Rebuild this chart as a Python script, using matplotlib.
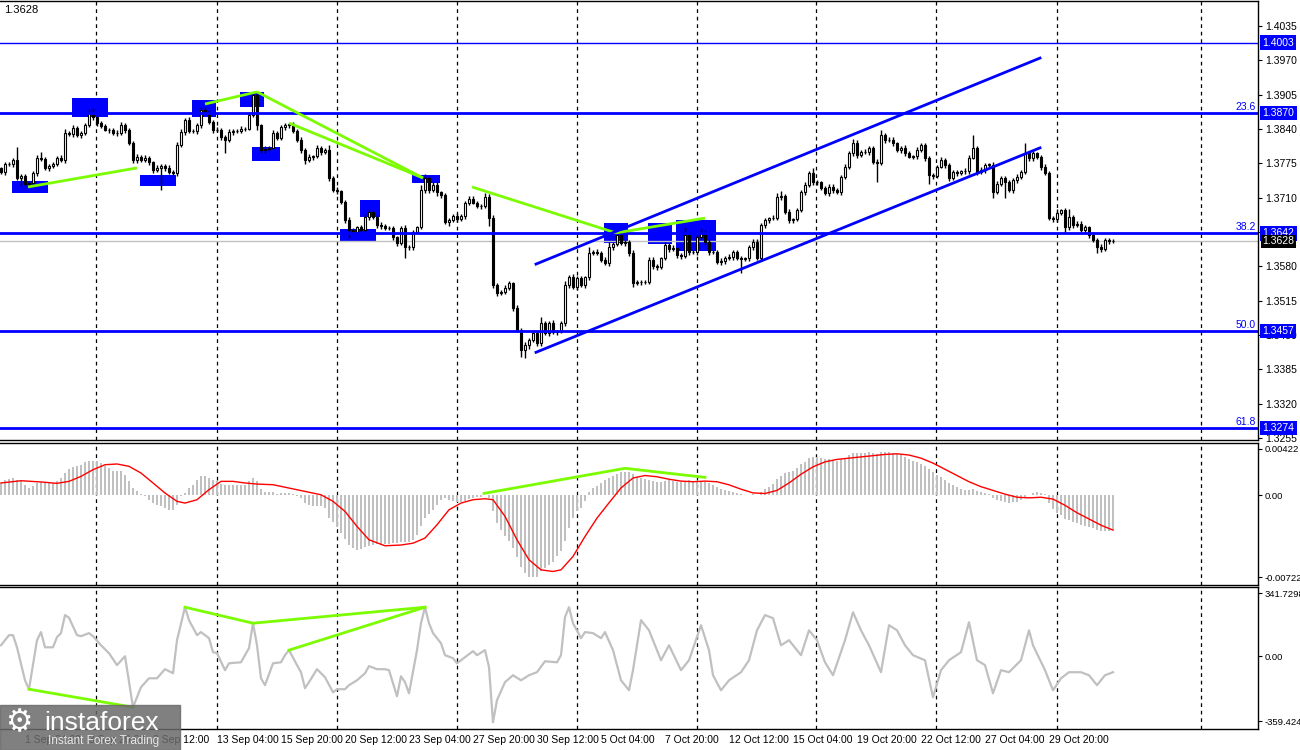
import matplotlib.pyplot as plt
import numpy as np
from matplotlib.patches import Rectangle

# GBPUSD H4 closes, one per bar
closes = [
    1.3758, 1.3773, 1.3773, 1.3781, 1.3747, 1.3751, 1.3736, 1.3737, 1.3756, 1.3785,
    1.3783, 1.3766, 1.3770, 1.3773, 1.3785, 1.3781, 1.3832, 1.3830, 1.3842, 1.3828,
    1.3832, 1.3847, 1.3870, 1.3862, 1.3851, 1.3845, 1.3838, 1.3838, 1.3832, 1.3832,
    1.3847, 1.3838, 1.3813, 1.3781, 1.3787, 1.3781, 1.3785, 1.3777, 1.3762, 1.3766,
    1.3770, 1.3766, 1.3758, 1.3756, 1.3809, 1.3834, 1.3857, 1.3836, 1.3836, 1.3847,
    1.3876, 1.3872, 1.3853, 1.3838, 1.3838, 1.3825, 1.3819, 1.3834, 1.3836, 1.3836,
    1.3840, 1.3840, 1.3866, 1.3904, 1.3847, 1.3800, 1.3802, 1.3804, 1.3832, 1.3823,
    1.3843, 1.3847, 1.3849, 1.3836, 1.3819, 1.3800, 1.3781, 1.3787, 1.3788, 1.3804,
    1.3796, 1.3800, 1.3747, 1.3724, 1.3722, 1.3701, 1.3667, 1.3648, 1.3645, 1.3654,
    1.3648, 1.3673, 1.3683, 1.3673, 1.3658, 1.3656, 1.3652, 1.3652, 1.3635, 1.3624,
    1.3652, 1.3616, 1.3616, 1.3645, 1.3654, 1.3724, 1.3747, 1.3724, 1.3734, 1.3720,
    1.3715, 1.3663, 1.3667, 1.3675, 1.3669, 1.3675, 1.3700, 1.3707, 1.3700, 1.3694,
    1.3694, 1.3711, 1.3671, 1.3544, 1.3529, 1.3531, 1.3539, 1.3548, 1.3501, 1.3459,
    1.3421, 1.3431, 1.3440, 1.3453, 1.3434, 1.3472, 1.3453, 1.3472, 1.3455, 1.3457,
    1.3472, 1.3544, 1.3559, 1.3540, 1.3557, 1.3544, 1.3559, 1.3605, 1.3607, 1.3605,
    1.3592, 1.3586, 1.3616, 1.3622, 1.3639, 1.3624, 1.3626, 1.3605, 1.3548, 1.3550,
    1.3550, 1.3550, 1.3592, 1.3580, 1.3578, 1.3595, 1.3620, 1.3612, 1.3614, 1.3601,
    1.3599, 1.3639, 1.3607, 1.3607, 1.3635, 1.3645, 1.3626, 1.3607, 1.3607, 1.3588,
    1.3590, 1.3595, 1.3597, 1.3607, 1.3595, 1.3593, 1.3595, 1.3616, 1.3626, 1.3595,
    1.3658, 1.3667, 1.3671, 1.3671, 1.3711, 1.3713, 1.3683, 1.3667, 1.3669, 1.3686,
    1.3720, 1.3734, 1.3756, 1.3739, 1.3739, 1.3728, 1.3718, 1.3730, 1.3724, 1.3720,
    1.3749, 1.3768, 1.3794, 1.3813, 1.3790, 1.3796, 1.3796, 1.3804, 1.3777, 1.3775,
    1.3828, 1.3819, 1.3819, 1.3813, 1.3800, 1.3804, 1.3794, 1.3787, 1.3788, 1.3800,
    1.3809, 1.3785, 1.3752, 1.3751, 1.3768, 1.3781, 1.3772, 1.3747, 1.3758, 1.3756,
    1.3760, 1.3760, 1.3785, 1.3804, 1.3758, 1.3762, 1.3772, 1.3772, 1.3720, 1.3736,
    1.3747, 1.3739, 1.3724, 1.3743, 1.3749, 1.3758, 1.3794, 1.3785, 1.3794, 1.3787,
    1.3768, 1.3756, 1.3671, 1.3669, 1.3681, 1.3686, 1.3654, 1.3673, 1.3658, 1.3660,
    1.3648, 1.3654, 1.3639, 1.3629, 1.3616, 1.3612, 1.3629, 1.3628, 1.3628,
]
first_open = 1.3765

# wick lengths in pips above / below the body
wick_up = [
    3, 4, 5, 3, 25, 4, 3, 4, 5, 6, 12, 4, 3, 5, 4, 6, 8, 4, 5, 3,
    4, 5, 8, 10, 3, 4, 5, 3, 4, 5, 6, 4, 3, 4, 5, 3, 6, 4, 3, 5,
    4, 3, 5, 4, 6, 5, 4, 6, 3, 5, 6, 5, 4, 3, 5, 4, 3, 6, 4, 3,
    5, 4, 6, 6, 4, 3, 5, 4, 6, 3, 4, 5, 3, 4, 3, 5, 4, 6, 3, 5,
    4, 3, 10, 4, 5, 3, 4, 6, 5, 3, 4, 5, 6, 3, 4, 5, 3, 4, 5, 3,
    4, 6, 5, 4, 3, 10, 8, 4, 6, 5, 3, 4, 5, 4, 6, 3, 4, 5, 6, 3,
    4, 8, 5, 6, 4, 3, 5, 4, 3, 5, 4, 6, 5, 3, 4, 12, 5, 4, 6, 3,
    5, 8, 4, 6, 5, 4, 3, 12, 4, 5, 3, 6, 10, 4, 6, 5, 4, 3, 5, 4,
    3, 4, 5, 6, 4, 3, 5, 4, 6, 3, 4, 15, 5, 4, 6, 8, 4, 5, 3, 4,
    5, 4, 6, 3, 4, 5, 3, 4, 6, 5, 4, 5, 3, 6, 8, 10, 4, 5, 3, 4,
    5, 6, 4, 10, 5, 3, 4, 6, 5, 4, 3, 5, 4, 8, 6, 4, 5, 3, 4, 5,
    10, 4, 5, 6, 3, 4, 5, 4, 3, 6, 5, 4, 3, 5, 4, 6, 3, 4, 5, 4,
    3, 5, 6, 24, 4, 5, 3, 4, 6, 5, 4, 3, 5, 4, 6, 5, 20, 4, 5, 3,
    4, 6, 5, 4, 8, 3, 5, 15, 4, 6, 5, 4, 3, 5, 4, 6, 4, 5, 3,
]
wick_dn = [
    4, 5, 3, 6, 4, 15, 5, 3, 4, 5, 3, 4, 6, 5, 4, 3, 5, 4, 6, 3,
    5, 4, 3, 6, 5, 4, 3, 5, 4, 6, 3, 5, 4, 6, 5, 3, 4, 5, 6, 4,
    42, 5, 4, 3, 6, 4, 5, 3, 4, 6, 5, 4, 3, 5, 4, 6, 25, 4, 5, 3,
    4, 5, 3, 4, 10, 6, 5, 4, 3, 5, 4, 6, 5, 3, 4, 5, 8, 4, 6, 3,
    5, 4, 6, 3, 5, 4, 6, 15, 5, 4, 6, 3, 5, 4, 6, 5, 4, 3, 6, 5,
    4, 20, 5, 6, 3, 4, 5, 6, 4, 8, 5, 4, 6, 3, 5, 4, 6, 5, 3, 4,
    5, 4, 15, 6, 5, 4, 3, 5, 6, 4, 12, 15, 8, 4, 5, 6, 4, 5, 3, 6,
    4, 5, 6, 3, 5, 4, 6, 5, 4, 3, 5, 4, 6, 5, 3, 4, 5, 6, 8, 4,
    5, 3, 4, 6, 5, 4, 3, 5, 4, 6, 5, 4, 6, 3, 5, 4, 6, 5, 4, 3,
    5, 6, 4, 5, 3, 26, 4, 5, 6, 3, 4, 5, 6, 4, 3, 5, 4, 6, 5, 4,
    3, 5, 4, 6, 5, 4, 3, 5, 6, 4, 5, 3, 4, 6, 5, 4, 3, 5, 4, 36,
    4, 5, 3, 6, 4, 5, 6, 3, 4, 5, 4, 6, 17, 5, 4, 3, 6, 5, 4, 5,
    4, 6, 5, 3, 5, 4, 6, 5, 11, 4, 5, 30, 4, 6, 5, 3, 4, 5, 6, 4,
    5, 3, 4, 6, 5, 4, 11, 5, 6, 4, 3, 5, 6, 4, 11, 5, 4, 6, 5,
]

# MACD main (histogram), units of 1e-5
macd_hist = [
    100, 121, 132, 140, 121, 113, 86, 59, 73, 100,
    105, 100, 100, 100, 113, 140, 180, 212, 229, 234,
    247, 266, 280, 280, 274, 261, 239, 221, 199, 199,
    194, 167, 113, 59, 32, 13, -3, -35, -62, -75,
    -89, -102, -116, -116, -75, -8, 19, 59, 86, 121,
    153, 159, 140, 126, 113, 91, 86, 86, 86, 81,
    81, 81, 113, 140, 113, 51, 24, 24, 24, 13,
    19, 19, 19, 13, -3, -22, -62, -75, -89, -89,
    -89, -102, -183, -218, -256, -304, -352, -398, -425, -438,
    -433, -412, -406, -398, -390, -390, -390, -390, -385, -385,
    -379, -379, -374, -358, -317, -245, -183, -148, -116, -75,
    -35, -22, -35, -48, -56, -56, -48, -30, -22, -16,
    -13, 5, -22, -129, -223, -277, -331, -371, -425, -498,
    -573, -627, -654, -659, -654, -613, -586, -560, -533, -492,
    -452, -371, -264, -183, -129, -102, -48, 24, 59, 78,
    100, 120, 140, 160, 175, 185, 190, 185, 170, 150,
    140, 130, 120, 115, 110, 110, 115, 120, 115, 110,
    105, 115, 120, 115, 110, 115, 110, 100, 85, 70,
    55, 45, 35, 30, 20, 10, 5, 5, 10, 5,
    30, 50, 70, 90, 130, 160, 180, 190, 200, 220,
    250, 270, 300, 310, 310, 305, 295, 290, 285, 280,
    290, 305, 325, 345, 345, 345, 345, 350, 340, 330,
    350, 350, 350, 345, 335, 325, 310, 290, 275, 265,
    255, 240, 210, 185, 165, 145, 125, 100, 85, 70,
    55, 45, 45, 50, 35, 25, 20, 15, -20, -35,
    -45, -50, -60, -55, -50, -40, -10, 5, 20, 25,
    20, 10, -60, -110, -140, -160, -190, -200, -215, -225,
    -240, -245, -255, -265, -280, -290, -285, -285, -280,
]
# MACD signal line, read at these bars
sig_bars = [0, 5, 10, 14, 17, 20, 23, 26, 29, 32, 35, 38, 41, 44, 46, 49, 52, 55, 58, 61,
            64, 68, 72, 76, 80, 83, 86, 89, 92, 96, 100, 103, 106, 109, 112, 115, 118, 121, 123, 126,
            129, 132, 135, 138, 140, 143, 146, 149, 152, 155, 158, 161, 164, 167, 170, 173, 176, 179, 182, 185,
            188, 191, 194, 197, 200, 203, 206, 209, 212, 215, 218, 221, 224, 227, 230, 233, 236, 239, 242, 245,
            248, 251, 254, 257, 260, 263, 266, 269, 272, 275, 278]
sig_vals = [100, 118, 108, 97, 113, 153, 207, 247, 253, 234, 180, 100, 19, -48, -62, -35, 46, 113, 113, 100,
            91, 86, 59, 32, 5, -48, -129, -250, -358, -406, -400, -385, -344, -237, -116, -62, -35, -27, -35, -169,
            -358, -519, -600, -613, -600, -492, -331, -183, -60, 60, 140, 160, 150, 130, 115, 110, 115, 110, 85, 50,
            20, 15, 40, 100, 170, 230, 270, 290, 300, 310, 320, 330, 335, 325, 300, 260, 210, 160, 110, 70,
            40, 10, -15, -20, -15, -30, -80, -140, -190, -240, -280]

# CCI line, read at these bars
cci_bars = [0, 2, 3, 4, 6, 7, 9, 10, 11, 13, 14, 15, 16, 17, 19, 20, 22, 23, 25, 27,
            29, 31, 33, 35, 37, 39, 41, 43, 44, 46, 47, 49, 50, 52, 53, 54, 56, 57, 60, 62,
            63, 64, 65, 66, 68, 70, 71, 72, 74, 75, 76, 77, 79, 81, 83, 84, 86, 87, 89, 91,
            92, 94, 96, 97, 99, 100, 101, 102, 104, 105, 106, 107, 108, 110, 111, 113, 114, 116, 118, 119,
            121, 122, 123, 124, 126, 128, 130, 132, 134, 136, 139, 140, 141, 142, 143, 145, 146, 148, 150, 151,
            153, 155, 157, 158, 160, 162, 163, 165, 167, 170, 172, 175, 177, 178, 180, 182, 185, 187, 189, 191,
            193, 195, 197, 200, 202, 204, 206, 208, 211, 213, 215, 217, 220, 222, 224, 226, 228, 231, 233, 235,
            237, 240, 242, 244, 246, 248, 250, 252, 255, 257, 258, 261, 263, 265, 267, 270, 272, 274, 276, 278]
cci_vals = [54, 104, 104, 44, -119, -163, 79, 119, 44, 44, 94, 114, 203, 190, 104, 99, 114, 99, 54, 15,
            -44, 0, -252, -153, -109, -109, -64, -84, 79, 242, 178, 104, 119, 89, 20, 15, -69, -35, -30, 40,
            163, 54, -109, -143, -35, -30, 5, 30, -44, -79, -158, -128, -64, -104, -178, -163, -163, -143, -119, -84,
            -49, -64, -64, -69, -198, -99, -128, -183, 30, 163, 242, 163, 114, 64, 5, -10, -35, -5, 25, 5,
            30, -54, -326, -217, -128, -94, -119, -94, -79, -25, -30, 5, 193, 242, 163, 89, 119, 114, 89, 119,
            30, -119, -168, -69, 178, 128, 79, -20, 54, -69, -20, 153, 30, -94, -168, -119, -79, -20, 128, 203,
            188, 54, 79, 5, 128, 79, -30, -94, 79, 217, 128, 54, -79, 153, 128, 54, 5, -20, -203, -69,
            -20, 20, 168, -20, -44, -183, -69, -79, -20, 128, 54, -69, -168, -109, -79, -79, -94, -143, -94, -79]

# chart objects
fib_levels = [1.3870, 1.3642, 1.3457, 1.3274]
fib_names = ['23.6', '38.2', '50.0', '61.8']
top_level = 1.4003
last_price = 1.3628
price_ticks = [1.4035, 1.3970, 1.3905, 1.3840, 1.3775, 1.3710, 1.3645, 1.3580, 1.3515, 1.3450, 1.3385, 1.3320, 1.3255]
boxes = [  # bar from, bar to, price low, price high
    (2.75, 11.75, 1.3718, 1.3741), (17.75, 26.75, 1.3862, 1.3898), (34.75, 43.75, 1.3732, 1.3753),
    (47.75, 53.75, 1.3862, 1.3895), (59.75, 65.75, 1.3881, 1.3910), (62.75, 69.75, 1.3779, 1.3806),
    (89.75, 94.75, 1.3673, 1.3705), (84.75, 93.75, 1.3628, 1.3650), (102.75, 109.75, 1.3737, 1.3753),
    (150.75, 156.75, 1.3624, 1.3662), (161.75, 167.75, 1.3622, 1.3662), (168.75, 178.75, 1.3609, 1.3667),
]
green_main = [
    ((6.75, 1.3730), (34, 1.3766)), ((51, 1.3887), (64, 1.3910)), ((64, 1.3910), (105.5, 1.3747)),
    ((72, 1.3851), (105.5, 1.3747)), ((117.75, 1.3730), (153.75, 1.3643)), ((153.75, 1.3643), (176, 1.3671)),
]
channel = [((133.75, 1.3584), (259.75, 1.3974)), ((133.75, 1.3417), (259.75, 1.3804))]
green_macd_x = [120.75, 156, 176]
green_macd_y = [16, 218, 145]
green_cci = [((7, -163), (33, -252)), ((46, 242), (63, 163)), ((63, 163), (106, 242)), ((72, 30), (106, 242))]
grid_bars = [23.75, 54, 84, 114, 144, 174, 203.75, 233.75, 264, 300]
date_bars = [-10, 6, 22, 38, 54, 70, 86, 102, 118, 134, 150, 166, 182, 198, 214, 230, 246, 262]
date_labels = ['27 Aug 12:00', '1 Sep 04:00', '3 Sep 20:00', '8 Sep 12:00', '13 Sep 04:00', '15 Sep 20:00',
               '20 Sep 12:00', '23 Sep 04:00', '27 Sep 20:00', '30 Sep 12:00', '5 Oct 04:00', '7 Oct 20:00',
               '12 Oct 12:00', '15 Oct 04:00', '19 Oct 20:00', '22 Oct 12:00', '27 Oct 04:00', '29 Oct 20:00']

BLUE = '#0000ff'
GREEN = '#7cfc00'
SILVER = '#c0c0c0'
plt.rcParams['font.family'] = ['Liberation Sans', 'DejaVu Sans']
FS = 7.5
FS_IND = 6.8

c = np.array(closes)
o = np.r_[first_open, c[:-1]]
hi = np.maximum(o, c) + np.array(wick_up) * 0.0001
lo = np.minimum(o, c) - np.array(wick_dn) * 0.0001
x = np.arange(len(c))
XLIM = (-0.25, 314.25)

W, H = 1300, 750
fig = plt.figure(figsize=(13, 7.5), dpi=100)
ax = fig.add_axes([0, 1 - 440 / H, 1258 / W, 439 / H])
axm = fig.add_axes([0, 1 - 585 / H, 1258 / W, 142 / H])
axc = fig.add_axes([0, 1 - 729 / H, 1258 / W, 142 / H])

for a in (ax, axm, axc):
    a.spines['left'].set_visible(False)
    for s in ('top', 'bottom', 'right'):
        a.spines[s].set_linewidth(1)
    a.yaxis.tick_right()
    a.tick_params(axis='y', direction='out', length=3, labelsize=FS, pad=2)
    a.tick_params(axis='x', length=0, labelbottom=False)
    for gb in grid_bars:
        a.axvline(gb, color='black', lw=0.9, ls=(0, (3, 3)), zorder=0.5)
for a in (axm, axc):
    a.tick_params(axis='y', labelsize=FS_IND, pad=1.5)

# --- price panel ---
ax.set_ylim(1.3251, 1.4082)
ax.set_yticks(price_ticks)
ax.set_yticklabels([f'{p:.4f}' for p in price_ticks])

for x0, x1, p0, p1 in boxes:
    ax.add_patch(Rectangle((x0, p0), x1 - x0, p1 - p0, color=BLUE, lw=0, zorder=1))

ax.vlines(x, lo, hi, color='black', lw=1, zorder=2)
body_h = np.maximum(np.abs(c - o), 0.00006)
body_b = np.minimum(o, c)
ax.bar(x, body_h, bottom=body_b, width=0.66, color=np.where(c >= o, 'white', 'black'),
       edgecolor='black', linewidth=0.8, zorder=2.2)

ax.axhline(last_price, color=SILVER, lw=1, zorder=1.5)
ax.axhline(top_level, color=BLUE, lw=1, zorder=3)
for lv, nm in zip(fib_levels, fib_names):
    ax.axhline(lv, color=BLUE, lw=2, zorder=3)
    ax.text(313.7, lv + 0.0002, nm, color=BLUE, fontsize=FS, ha='right', va='bottom', zorder=4)

for (xa, ya), (xb, yb) in green_main:
    ax.plot([xa, xb], [ya, yb], color=GREEN, lw=2, zorder=3.5, solid_capstyle='butt')
for (xa, ya), (xb, yb) in channel:
    ax.plot([xa, xb], [ya, yb], color=BLUE, lw=2, zorder=3.5)

ytr = ax.get_yaxis_transform()
for lv in [top_level] + fib_levels:
    ax.text(1.0035, lv, f'{lv:.4f}', transform=ytr, color='white', fontsize=FS, ha='left', va='center',
            clip_on=False, zorder=5, bbox=dict(boxstyle='square,pad=0.22', fc=BLUE, ec='none'))
ax.text(1.0035, last_price - 0.00012, f'{last_price:.4f}', transform=ytr, color='white', fontsize=FS,
        ha='left', va='center', clip_on=False, zorder=5,
        bbox=dict(boxstyle='square,pad=0.15', fc='black', ec='none'))

fig.text(4 / W, 1 - 10 / H, f'{last_price:.4f}', fontsize=FS + 0.5, va='center', ha='left')

# --- MACD panel ---
axm.set_ylim(-722, 422)
axm.bar(x, macd_hist, width=0.7, color=SILVER, lw=0, zorder=1)
axm.plot(sig_bars, sig_vals, color='red', lw=1, zorder=2)
axm.plot(green_macd_x, green_macd_y, color=GREEN, lw=2, zorder=3)
axm.set_yticks([374, 0, -658])
axm.set_yticklabels(['0.00422', '0.00', '-0.00722'])

# --- CCI panel ---
axc.set_ylim(-359.424, 341.7298)
axc.plot(cci_bars, cci_vals, color=SILVER, lw=1.6, zorder=1)
for (xa, ya), (xb, yb) in green_cci:
    axc.plot([xa, xb], [ya, yb], color=GREEN, lw=2, zorder=3)
axc.set_yticks([312, 0, -320])
axc.set_yticklabels(['341.7298', '0.00', '-359.424'])
axc.set_xticks(date_bars)
axc.set_xticklabels(date_labels, ha='left')
axc.tick_params(axis='x', length=0, labelbottom=True, labelsize=FS, pad=4)

for a in (ax, axm, axc):
    a.set_xlim(*XLIM)

# watermark
fig.patches.append(Rectangle((0, 0), 180 / W, 45 / H, transform=fig.transFigure,
                             color='#6a6a6a', alpha=0.85, zorder=10))
fig.text(5 / W, 1 - 723 / H, '\u2699', fontsize=22, color='white', va='center', ha='left', zorder=11,
         family='DejaVu Sans')
fig.text(44 / W, 1 - 723 / H, 'instaforex', fontsize=19, color='white', va='center', ha='left', zorder=11)
fig.text(48 / W, 1 - 741 / H, 'Instant Forex Trading', fontsize=8.5, color='#e8e8e8', va='center',
         ha='left', zorder=11)

fig.savefig('out.png', dpi=100)
